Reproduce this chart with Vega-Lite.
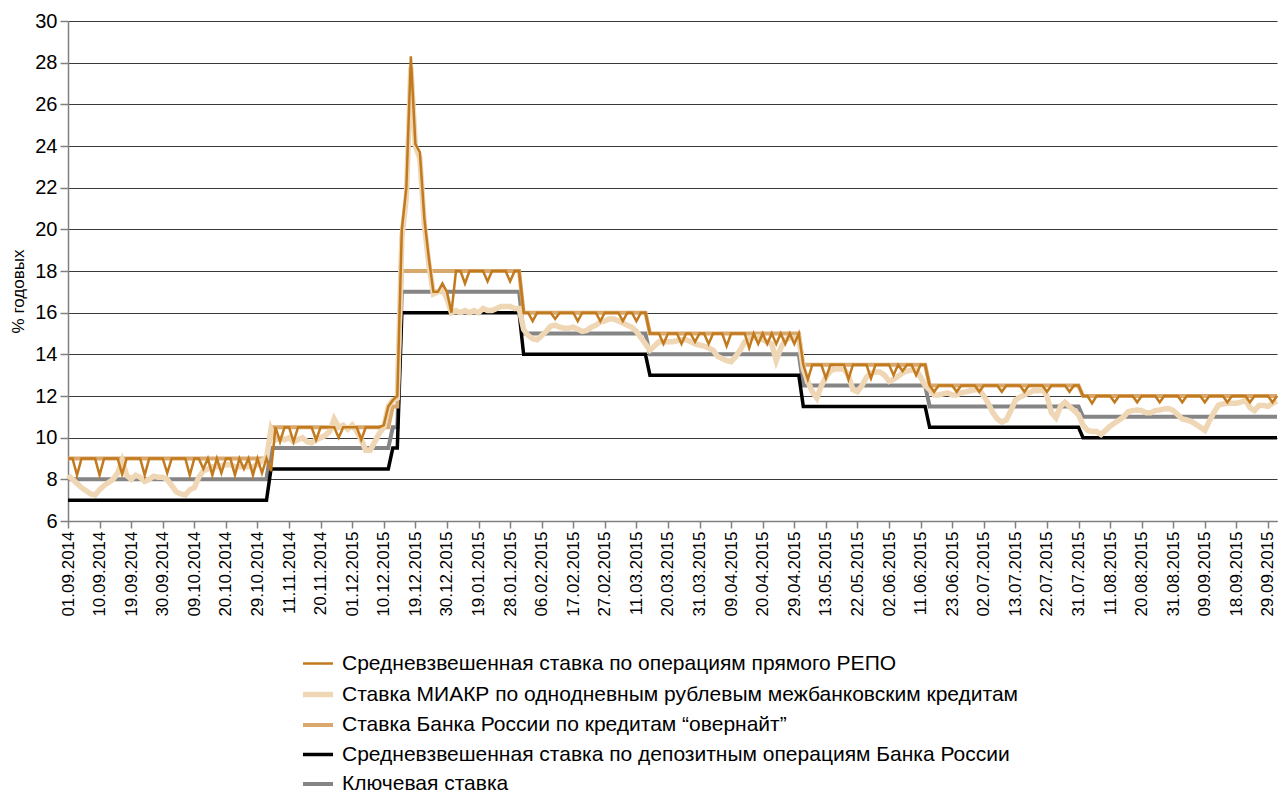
{
"$schema": "https://vega.github.io/schema/vega-lite/v6.json",
"width": 1209, "height": 500,
"autosize": {"type": "none"},
"padding": {"left": 68, "top": 21, "right": 1, "bottom": 273},
"background": "white",
"config": {"font": "Liberation Sans", "view": {"stroke": null}},
"datasets": {"names": [
{"code": "r", "name": "Средневзвешенная ставка по операциям прямого РЕПО"},
{"code": "m", "name": "Ставка МИАКР по однодневным рублевым межбанковским кредитам"},
{"code": "o", "name": "Ставка Банка России по кредитам “овернайт”"},
{"code": "p", "name": "Средневзвешенная ставка по депозитным операциям Банка России"},
{"code": "k", "name": "Ключевая ставка"}
]},
"data": {"values": [
{"d":"01.09.2014","r":9,"m":8.2,"o":9,"p":7,"k":8},
{"d":"02.09.2014","r":9,"m":8.0,"o":9,"p":7,"k":8},
{"d":"03.09.2014","r":8.2,"m":7.8,"o":9,"p":7,"k":8},
{"d":"04.09.2014","r":9,"m":7.6,"o":9,"p":7,"k":8},
{"d":"05.09.2014","r":9,"m":7.45,"o":9,"p":7,"k":8},
{"d":"08.09.2014","r":9,"m":7.3,"o":9,"p":7,"k":8},
{"d":"09.09.2014","r":9,"m":7.25,"o":9,"p":7,"k":8},
{"d":"10.09.2014","r":8.2,"m":7.5,"o":9,"p":7,"k":8},
{"d":"11.09.2014","r":9,"m":7.7,"o":9,"p":7,"k":8},
{"d":"12.09.2014","r":9,"m":7.85,"o":9,"p":7,"k":8},
{"d":"15.09.2014","r":9,"m":8.0,"o":9,"p":7,"k":8},
{"d":"16.09.2014","r":9,"m":8.3,"o":9,"p":7,"k":8},
{"d":"17.09.2014","r":8.25,"m":8.9,"o":9,"p":7,"k":8},
{"d":"18.09.2014","r":9,"m":8.2,"o":9,"p":7,"k":8},
{"d":"19.09.2014","r":9,"m":8.0,"o":9,"p":7,"k":8},
{"d":"22.09.2014","r":9,"m":8.2,"o":9,"p":7,"k":8},
{"d":"23.09.2014","r":9,"m":8.1,"o":9,"p":7,"k":8},
{"d":"24.09.2014","r":8.2,"m":7.9,"o":9,"p":7,"k":8},
{"d":"25.09.2014","r":9,"m":8.0,"o":9,"p":7,"k":8},
{"d":"26.09.2014","r":9,"m":8.15,"o":9,"p":7,"k":8},
{"d":"29.09.2014","r":9,"m":8.1,"o":9,"p":7,"k":8},
{"d":"30.09.2014","r":9,"m":8.1,"o":9,"p":7,"k":8},
{"d":"01.10.2014","r":8.3,"m":8.0,"o":9,"p":7,"k":8},
{"d":"02.10.2014","r":9,"m":7.7,"o":9,"p":7,"k":8},
{"d":"03.10.2014","r":9,"m":7.4,"o":9,"p":7,"k":8},
{"d":"06.10.2014","r":9,"m":7.3,"o":9,"p":7,"k":8},
{"d":"07.10.2014","r":9,"m":7.25,"o":9,"p":7,"k":8},
{"d":"08.10.2014","r":8.2,"m":7.5,"o":9,"p":7,"k":8},
{"d":"09.10.2014","r":9,"m":7.6,"o":9,"p":7,"k":8},
{"d":"10.10.2014","r":9,"m":8.1,"o":9,"p":7,"k":8},
{"d":"13.10.2014","r":8.5,"m":8.4,"o":9,"p":7,"k":8},
{"d":"14.10.2014","r":9,"m":8.5,"o":9,"p":7,"k":8},
{"d":"15.10.2014","r":8.2,"m":8.6,"o":9,"p":7,"k":8},
{"d":"16.10.2014","r":9,"m":8.6,"o":9,"p":7,"k":8},
{"d":"17.10.2014","r":8.3,"m":8.65,"o":9,"p":7,"k":8},
{"d":"20.10.2014","r":9,"m":8.7,"o":9,"p":7,"k":8},
{"d":"21.10.2014","r":9,"m":8.7,"o":9,"p":7,"k":8},
{"d":"22.10.2014","r":8.2,"m":8.6,"o":9,"p":7,"k":8},
{"d":"23.10.2014","r":9,"m":8.6,"o":9,"p":7,"k":8},
{"d":"24.10.2014","r":8.5,"m":8.6,"o":9,"p":7,"k":8},
{"d":"27.10.2014","r":9,"m":8.6,"o":9,"p":7,"k":8},
{"d":"28.10.2014","r":8.2,"m":8.6,"o":9,"p":7,"k":8},
{"d":"29.10.2014","r":9,"m":8.7,"o":9,"p":7,"k":8},
{"d":"30.10.2014","r":8.3,"m":8.9,"o":9,"p":7,"k":8},
{"d":"31.10.2014","r":9,"m":9.0,"o":9,"p":7,"k":8},
{"d":"05.11.2014","r":8.4,"m":10.4,"o":10.5,"p":8.5,"k":9.5},
{"d":"06.11.2014","r":10.5,"m":9.9,"o":10.5,"p":8.5,"k":9.5},
{"d":"07.11.2014","r":9.8,"m":10.0,"o":10.5,"p":8.5,"k":9.5},
{"d":"10.11.2014","r":10.5,"m":9.9,"o":10.5,"p":8.5,"k":9.5},
{"d":"11.11.2014","r":10.5,"m":10.0,"o":10.5,"p":8.5,"k":9.5},
{"d":"12.11.2014","r":9.8,"m":9.8,"o":10.5,"p":8.5,"k":9.5},
{"d":"13.11.2014","r":10.5,"m":9.9,"o":10.5,"p":8.5,"k":9.5},
{"d":"14.11.2014","r":10.5,"m":10.0,"o":10.5,"p":8.5,"k":9.5},
{"d":"17.11.2014","r":10.5,"m":9.8,"o":10.5,"p":8.5,"k":9.5},
{"d":"18.11.2014","r":10.5,"m":9.75,"o":10.5,"p":8.5,"k":9.5},
{"d":"19.11.2014","r":9.9,"m":9.9,"o":10.5,"p":8.5,"k":9.5},
{"d":"20.11.2014","r":10.5,"m":10.0,"o":10.5,"p":8.5,"k":9.5},
{"d":"21.11.2014","r":10.5,"m":10.1,"o":10.5,"p":8.5,"k":9.5},
{"d":"24.11.2014","r":10.5,"m":10.3,"o":10.5,"p":8.5,"k":9.5},
{"d":"25.11.2014","r":10.5,"m":10.9,"o":10.5,"p":8.5,"k":9.5},
{"d":"26.11.2014","r":10.0,"m":10.5,"o":10.5,"p":8.5,"k":9.5},
{"d":"27.11.2014","r":10.5,"m":10.6,"o":10.5,"p":8.5,"k":9.5},
{"d":"28.11.2014","r":10.5,"m":10.4,"o":10.5,"p":8.5,"k":9.5},
{"d":"01.12.2015","r":10.5,"m":10.6,"o":10.5,"p":8.5,"k":9.5},
{"d":"02.12.2015","r":10.5,"m":10.3,"o":10.5,"p":8.5,"k":9.5},
{"d":"03.12.2015","r":9.9,"m":9.9,"o":10.5,"p":8.5,"k":9.5},
{"d":"04.12.2015","r":10.5,"m":9.4,"o":10.5,"p":8.5,"k":9.5},
{"d":"05.12.2015","r":10.5,"m":9.4,"o":10.5,"p":8.5,"k":9.5},
{"d":"08.12.2015","r":10.5,"m":9.8,"o":10.5,"p":8.5,"k":9.5},
{"d":"09.12.2015","r":10.5,"m":10.2,"o":10.5,"p":8.5,"k":9.5},
{"d":"10.12.2015","r":10.6,"m":10.5,"o":10.5,"p":8.5,"k":9.5},
{"d":"11.12.2015","r":11.5,"m":11.5,"o":10.5,"p":8.5,"k":9.5},
{"d":"12.12.2015","r":11.8,"m":11.8,"o":11.5,"p":9.5,"k":10.5},
{"d":"15.12.2015","r":12.0,"m":11.9,"o":11.5,"p":9.5,"k":10.5},
{"d":"16.12.2015","r":20.0,"m":19.6,"o":18,"p":16,"k":17},
{"d":"17.12.2015","r":22.0,"m":21.5,"o":18,"p":16,"k":17},
{"d":"18.12.2015","r":28.3,"m":27.8,"o":18,"p":16,"k":17},
{"d":"19.12.2015","r":24.1,"m":24.0,"o":18,"p":16,"k":17},
{"d":"22.12.2015","r":23.7,"m":23.4,"o":18,"p":16,"k":17},
{"d":"23.12.2015","r":20.5,"m":20.2,"o":18,"p":16,"k":17},
{"d":"24.12.2015","r":18.6,"m":18.3,"o":18,"p":16,"k":17},
{"d":"25.12.2015","r":17.0,"m":16.9,"o":18,"p":16,"k":17},
{"d":"26.12.2015","r":17.0,"m":17.0,"o":18,"p":16,"k":17},
{"d":"29.12.2015","r":17.4,"m":17.1,"o":18,"p":16,"k":17},
{"d":"30.12.2015","r":17.0,"m":16.7,"o":18,"p":16,"k":17},
{"d":"31.12.2015","r":16.0,"m":16.0,"o":18,"p":16,"k":17},
{"d":"12.01.2015","r":18,"m":16.1,"o":18,"p":16,"k":17},
{"d":"13.01.2015","r":18,"m":16.0,"o":18,"p":16,"k":17},
{"d":"14.01.2015","r":17.4,"m":16.1,"o":18,"p":16,"k":17},
{"d":"15.01.2015","r":18,"m":16.0,"o":18,"p":16,"k":17},
{"d":"16.01.2015","r":18,"m":16.1,"o":18,"p":16,"k":17},
{"d":"19.01.2015","r":18,"m":16.0,"o":18,"p":16,"k":17},
{"d":"20.01.2015","r":18,"m":16.2,"o":18,"p":16,"k":17},
{"d":"21.01.2015","r":17.5,"m":16.1,"o":18,"p":16,"k":17},
{"d":"22.01.2015","r":18,"m":16.1,"o":18,"p":16,"k":17},
{"d":"23.01.2015","r":18,"m":16.2,"o":18,"p":16,"k":17},
{"d":"26.01.2015","r":18,"m":16.3,"o":18,"p":16,"k":17},
{"d":"27.01.2015","r":18,"m":16.3,"o":18,"p":16,"k":17},
{"d":"28.01.2015","r":17.5,"m":16.3,"o":18,"p":16,"k":17},
{"d":"29.01.2015","r":18,"m":16.2,"o":18,"p":16,"k":17},
{"d":"30.01.2015","r":18,"m":16.2,"o":18,"p":16,"k":17},
{"d":"02.02.2015","r":16,"m":15.2,"o":16,"p":14,"k":15},
{"d":"03.02.2015","r":16,"m":14.9,"o":16,"p":14,"k":15},
{"d":"04.02.2015","r":15.6,"m":14.75,"o":16,"p":14,"k":15},
{"d":"05.02.2015","r":16,"m":14.7,"o":16,"p":14,"k":15},
{"d":"06.02.2015","r":16,"m":14.9,"o":16,"p":14,"k":15},
{"d":"09.02.2015","r":16,"m":15.1,"o":16,"p":14,"k":15},
{"d":"10.02.2015","r":16,"m":15.35,"o":16,"p":14,"k":15},
{"d":"11.02.2015","r":15.7,"m":15.4,"o":16,"p":14,"k":15},
{"d":"12.02.2015","r":16,"m":15.3,"o":16,"p":14,"k":15},
{"d":"13.02.2015","r":16,"m":15.25,"o":16,"p":14,"k":15},
{"d":"16.02.2015","r":16,"m":15.25,"o":16,"p":14,"k":15},
{"d":"17.02.2015","r":16,"m":15.3,"o":16,"p":14,"k":15},
{"d":"18.02.2015","r":15.6,"m":15.2,"o":16,"p":14,"k":15},
{"d":"19.02.2015","r":16,"m":15.1,"o":16,"p":14,"k":15},
{"d":"20.02.2015","r":16,"m":15.15,"o":16,"p":14,"k":15},
{"d":"24.02.2015","r":16,"m":15.3,"o":16,"p":14,"k":15},
{"d":"25.02.2015","r":16,"m":15.4,"o":16,"p":14,"k":15},
{"d":"26.02.2015","r":15.6,"m":15.55,"o":16,"p":14,"k":15},
{"d":"27.02.2015","r":16,"m":15.6,"o":16,"p":14,"k":15},
{"d":"02.03.2015","r":16,"m":15.7,"o":16,"p":14,"k":15},
{"d":"03.03.2015","r":16,"m":15.7,"o":16,"p":14,"k":15},
{"d":"04.03.2015","r":16,"m":15.6,"o":16,"p":14,"k":15},
{"d":"05.03.2015","r":15.6,"m":15.5,"o":16,"p":14,"k":15},
{"d":"06.03.2015","r":16,"m":15.4,"o":16,"p":14,"k":15},
{"d":"10.03.2015","r":16,"m":15.3,"o":16,"p":14,"k":15},
{"d":"11.03.2015","r":15.6,"m":15.1,"o":16,"p":14,"k":15},
{"d":"12.03.2015","r":16,"m":14.8,"o":16,"p":14,"k":15},
{"d":"13.03.2015","r":16,"m":14.5,"o":16,"p":14,"k":15},
{"d":"16.03.2015","r":15,"m":14.2,"o":15,"p":13,"k":14},
{"d":"17.03.2015","r":15,"m":14.4,"o":15,"p":13,"k":14},
{"d":"18.03.2015","r":15,"m":14.6,"o":15,"p":13,"k":14},
{"d":"19.03.2015","r":14.5,"m":14.6,"o":15,"p":13,"k":14},
{"d":"20.03.2015","r":15,"m":14.6,"o":15,"p":13,"k":14},
{"d":"23.03.2015","r":15,"m":14.6,"o":15,"p":13,"k":14},
{"d":"24.03.2015","r":15,"m":14.65,"o":15,"p":13,"k":14},
{"d":"25.03.2015","r":14.5,"m":14.7,"o":15,"p":13,"k":14},
{"d":"26.03.2015","r":15,"m":14.7,"o":15,"p":13,"k":14},
{"d":"27.03.2015","r":15,"m":14.6,"o":15,"p":13,"k":14},
{"d":"30.03.2015","r":14.6,"m":14.5,"o":15,"p":13,"k":14},
{"d":"31.03.2015","r":15,"m":14.45,"o":15,"p":13,"k":14},
{"d":"01.04.2015","r":15,"m":14.4,"o":15,"p":13,"k":14},
{"d":"02.04.2015","r":14.5,"m":14.3,"o":15,"p":13,"k":14},
{"d":"03.04.2015","r":15,"m":14.2,"o":15,"p":13,"k":14},
{"d":"06.04.2015","r":15,"m":13.9,"o":15,"p":13,"k":14},
{"d":"07.04.2015","r":15,"m":13.8,"o":15,"p":13,"k":14},
{"d":"08.04.2015","r":14.4,"m":13.7,"o":15,"p":13,"k":14},
{"d":"09.04.2015","r":15,"m":13.65,"o":15,"p":13,"k":14},
{"d":"10.04.2015","r":15,"m":13.9,"o":15,"p":13,"k":14},
{"d":"13.04.2015","r":15,"m":14.2,"o":15,"p":13,"k":14},
{"d":"14.04.2015","r":15,"m":14.6,"o":15,"p":13,"k":14},
{"d":"15.04.2015","r":14.3,"m":14.75,"o":15,"p":13,"k":14},
{"d":"16.04.2015","r":15,"m":14.8,"o":15,"p":13,"k":14},
{"d":"17.04.2015","r":14.5,"m":14.85,"o":15,"p":13,"k":14},
{"d":"20.04.2015","r":15,"m":14.7,"o":15,"p":13,"k":14},
{"d":"21.04.2015","r":14.5,"m":14.6,"o":15,"p":13,"k":14},
{"d":"22.04.2015","r":15,"m":14.5,"o":15,"p":13,"k":14},
{"d":"23.04.2015","r":14.5,"m":13.7,"o":15,"p":13,"k":14},
{"d":"24.04.2015","r":15,"m":14.3,"o":15,"p":13,"k":14},
{"d":"27.04.2015","r":14.5,"m":14.7,"o":15,"p":13,"k":14},
{"d":"28.04.2015","r":15,"m":14.8,"o":15,"p":13,"k":14},
{"d":"29.04.2015","r":14.5,"m":14.8,"o":15,"p":13,"k":14},
{"d":"30.04.2015","r":15,"m":14.8,"o":15,"p":13,"k":14},
{"d":"05.05.2015","r":13.5,"m":13.3,"o":13.5,"p":11.5,"k":12.5},
{"d":"06.05.2015","r":12.8,"m":12.7,"o":13.5,"p":11.5,"k":12.5},
{"d":"07.05.2015","r":13.5,"m":12.2,"o":13.5,"p":11.5,"k":12.5},
{"d":"08.05.2015","r":13.5,"m":11.9,"o":13.5,"p":11.5,"k":12.5},
{"d":"12.05.2015","r":13.5,"m":12.5,"o":13.5,"p":11.5,"k":12.5},
{"d":"13.05.2015","r":12.85,"m":12.9,"o":13.5,"p":11.5,"k":12.5},
{"d":"14.05.2015","r":13.5,"m":13.2,"o":13.5,"p":11.5,"k":12.5},
{"d":"15.05.2015","r":13.5,"m":13.3,"o":13.5,"p":11.5,"k":12.5},
{"d":"18.05.2015","r":13.5,"m":13.3,"o":13.5,"p":11.5,"k":12.5},
{"d":"19.05.2015","r":13.5,"m":13.3,"o":13.5,"p":11.5,"k":12.5},
{"d":"20.05.2015","r":12.8,"m":13.0,"o":13.5,"p":11.5,"k":12.5},
{"d":"21.05.2015","r":13.5,"m":12.3,"o":13.5,"p":11.5,"k":12.5},
{"d":"22.05.2015","r":13.5,"m":12.2,"o":13.5,"p":11.5,"k":12.5},
{"d":"25.05.2015","r":13.5,"m":12.5,"o":13.5,"p":11.5,"k":12.5},
{"d":"26.05.2015","r":13.5,"m":12.9,"o":13.5,"p":11.5,"k":12.5},
{"d":"27.05.2015","r":12.85,"m":13.1,"o":13.5,"p":11.5,"k":12.5},
{"d":"28.05.2015","r":13.5,"m":13.15,"o":13.5,"p":11.5,"k":12.5},
{"d":"29.05.2015","r":13.5,"m":13.15,"o":13.5,"p":11.5,"k":12.5},
{"d":"01.06.2015","r":13.5,"m":13.0,"o":13.5,"p":11.5,"k":12.5},
{"d":"02.06.2015","r":13.5,"m":12.7,"o":13.5,"p":11.5,"k":12.5},
{"d":"03.06.2015","r":13.0,"m":12.8,"o":13.5,"p":11.5,"k":12.5},
{"d":"04.06.2015","r":13.5,"m":12.95,"o":13.5,"p":11.5,"k":12.5},
{"d":"05.06.2015","r":13.2,"m":13.1,"o":13.5,"p":11.5,"k":12.5},
{"d":"08.06.2015","r":13.5,"m":13.2,"o":13.5,"p":11.5,"k":12.5},
{"d":"09.06.2015","r":13.5,"m":13.25,"o":13.5,"p":11.5,"k":12.5},
{"d":"10.06.2015","r":13.0,"m":13.25,"o":13.5,"p":11.5,"k":12.5},
{"d":"11.06.2015","r":13.5,"m":12.9,"o":13.5,"p":11.5,"k":12.5},
{"d":"15.06.2015","r":13.5,"m":12.5,"o":13.5,"p":11.5,"k":12.5},
{"d":"16.06.2015","r":12.5,"m":12.3,"o":12.5,"p":10.5,"k":11.5},
{"d":"17.06.2015","r":12.2,"m":12.05,"o":12.5,"p":10.5,"k":11.5},
{"d":"18.06.2015","r":12.5,"m":12.05,"o":12.5,"p":10.5,"k":11.5},
{"d":"19.06.2015","r":12.5,"m":12.1,"o":12.5,"p":10.5,"k":11.5},
{"d":"22.06.2015","r":12.5,"m":12.15,"o":12.5,"p":10.5,"k":11.5},
{"d":"23.06.2015","r":12.5,"m":12.05,"o":12.5,"p":10.5,"k":11.5},
{"d":"24.06.2015","r":12.2,"m":12.05,"o":12.5,"p":10.5,"k":11.5},
{"d":"25.06.2015","r":12.5,"m":12.15,"o":12.5,"p":10.5,"k":11.5},
{"d":"26.06.2015","r":12.5,"m":12.2,"o":12.5,"p":10.5,"k":11.5},
{"d":"29.06.2015","r":12.5,"m":12.25,"o":12.5,"p":10.5,"k":11.5},
{"d":"30.06.2015","r":12.5,"m":12.3,"o":12.5,"p":10.5,"k":11.5},
{"d":"01.07.2015","r":12.2,"m":12.3,"o":12.5,"p":10.5,"k":11.5},
{"d":"02.07.2015","r":12.5,"m":12.0,"o":12.5,"p":10.5,"k":11.5},
{"d":"03.07.2015","r":12.5,"m":11.65,"o":12.5,"p":10.5,"k":11.5},
{"d":"06.07.2015","r":12.5,"m":11.2,"o":12.5,"p":10.5,"k":11.5},
{"d":"07.07.2015","r":12.5,"m":10.9,"o":12.5,"p":10.5,"k":11.5},
{"d":"08.07.2015","r":12.2,"m":10.75,"o":12.5,"p":10.5,"k":11.5},
{"d":"09.07.2015","r":12.5,"m":10.85,"o":12.5,"p":10.5,"k":11.5},
{"d":"10.07.2015","r":12.5,"m":11.3,"o":12.5,"p":10.5,"k":11.5},
{"d":"13.07.2015","r":12.5,"m":11.8,"o":12.5,"p":10.5,"k":11.5},
{"d":"14.07.2015","r":12.5,"m":11.95,"o":12.5,"p":10.5,"k":11.5},
{"d":"15.07.2015","r":12.2,"m":12.05,"o":12.5,"p":10.5,"k":11.5},
{"d":"16.07.2015","r":12.5,"m":12.15,"o":12.5,"p":10.5,"k":11.5},
{"d":"17.07.2015","r":12.5,"m":12.25,"o":12.5,"p":10.5,"k":11.5},
{"d":"20.07.2015","r":12.5,"m":12.25,"o":12.5,"p":10.5,"k":11.5},
{"d":"21.07.2015","r":12.5,"m":12.3,"o":12.5,"p":10.5,"k":11.5},
{"d":"22.07.2015","r":12.2,"m":12.0,"o":12.5,"p":10.5,"k":11.5},
{"d":"23.07.2015","r":12.5,"m":11.2,"o":12.5,"p":10.5,"k":11.5},
{"d":"24.07.2015","r":12.5,"m":10.95,"o":12.5,"p":10.5,"k":11.5},
{"d":"27.07.2015","r":12.5,"m":11.5,"o":12.5,"p":10.5,"k":11.5},
{"d":"28.07.2015","r":12.5,"m":11.7,"o":12.5,"p":10.5,"k":11.5},
{"d":"29.07.2015","r":12.2,"m":11.5,"o":12.5,"p":10.5,"k":11.5},
{"d":"30.07.2015","r":12.5,"m":11.3,"o":12.5,"p":10.5,"k":11.5},
{"d":"31.07.2015","r":12.5,"m":11.1,"o":12.5,"p":10.5,"k":11.5},
{"d":"03.08.2015","r":12,"m":10.6,"o":12,"p":10,"k":11},
{"d":"04.08.2015","r":12,"m":10.35,"o":12,"p":10,"k":11},
{"d":"05.08.2015","r":11.65,"m":10.3,"o":12,"p":10,"k":11},
{"d":"06.08.2015","r":12,"m":10.3,"o":12,"p":10,"k":11},
{"d":"07.08.2015","r":12,"m":10.15,"o":12,"p":10,"k":11},
{"d":"10.08.2015","r":12,"m":10.35,"o":12,"p":10,"k":11},
{"d":"11.08.2015","r":12,"m":10.55,"o":12,"p":10,"k":11},
{"d":"12.08.2015","r":11.7,"m":10.7,"o":12,"p":10,"k":11},
{"d":"13.08.2015","r":12,"m":10.85,"o":12,"p":10,"k":11},
{"d":"14.08.2015","r":12,"m":11.0,"o":12,"p":10,"k":11},
{"d":"17.08.2015","r":12,"m":11.25,"o":12,"p":10,"k":11},
{"d":"18.08.2015","r":12,"m":11.3,"o":12,"p":10,"k":11},
{"d":"19.08.2015","r":11.7,"m":11.33,"o":12,"p":10,"k":11},
{"d":"20.08.2015","r":12,"m":11.3,"o":12,"p":10,"k":11},
{"d":"21.08.2015","r":12,"m":11.2,"o":12,"p":10,"k":11},
{"d":"24.08.2015","r":12,"m":11.2,"o":12,"p":10,"k":11},
{"d":"25.08.2015","r":12,"m":11.3,"o":12,"p":10,"k":11},
{"d":"26.08.2015","r":11.7,"m":11.33,"o":12,"p":10,"k":11},
{"d":"27.08.2015","r":12,"m":11.38,"o":12,"p":10,"k":11},
{"d":"28.08.2015","r":12,"m":11.4,"o":12,"p":10,"k":11},
{"d":"31.08.2015","r":12,"m":11.3,"o":12,"p":10,"k":11},
{"d":"01.09.2015","r":12,"m":11.1,"o":12,"p":10,"k":11},
{"d":"02.09.2015","r":11.7,"m":10.9,"o":12,"p":10,"k":11},
{"d":"03.09.2015","r":12,"m":10.85,"o":12,"p":10,"k":11},
{"d":"04.09.2015","r":12,"m":10.77,"o":12,"p":10,"k":11},
{"d":"07.09.2015","r":12,"m":10.65,"o":12,"p":10,"k":11},
{"d":"08.09.2015","r":12,"m":10.5,"o":12,"p":10,"k":11},
{"d":"09.09.2015","r":11.7,"m":10.35,"o":12,"p":10,"k":11},
{"d":"10.09.2015","r":12,"m":10.8,"o":12,"p":10,"k":11},
{"d":"11.09.2015","r":12,"m":11.2,"o":12,"p":10,"k":11},
{"d":"14.09.2015","r":12,"m":11.55,"o":12,"p":10,"k":11},
{"d":"15.09.2015","r":12,"m":11.62,"o":12,"p":10,"k":11},
{"d":"16.09.2015","r":11.7,"m":11.65,"o":12,"p":10,"k":11},
{"d":"17.09.2015","r":12,"m":11.65,"o":12,"p":10,"k":11},
{"d":"18.09.2015","r":12,"m":11.65,"o":12,"p":10,"k":11},
{"d":"21.09.2015","r":12,"m":11.7,"o":12,"p":10,"k":11},
{"d":"22.09.2015","r":12,"m":11.8,"o":12,"p":10,"k":11},
{"d":"23.09.2015","r":11.7,"m":11.45,"o":12,"p":10,"k":11},
{"d":"24.09.2015","r":12,"m":11.3,"o":12,"p":10,"k":11},
{"d":"25.09.2015","r":12,"m":11.55,"o":12,"p":10,"k":11},
{"d":"28.09.2015","r":12,"m":11.55,"o":12,"p":10,"k":11},
{"d":"29.09.2015","r":12,"m":11.5,"o":12,"p":10,"k":11},
{"d":"30.09.2015","r":11.7,"m":11.65,"o":12,"p":10,"k":11},
{"d":"01.10.2015","r":12,"m":11.75,"o":12,"p":10,"k":11}
]},
"transform": [
{"fold": ["r", "m", "o", "p", "k"], "as": ["code", "v"]},
{"lookup": "code", "from": {"data": {"name": "names"}, "key": "code", "fields": ["name"]}}
],
"encoding": {
"x": {"field": "d", "type": "ordinal", "sort": null, "scale": {"type": "point", "padding": 0},
 "axis": {"title": null, "values": ["01.09.2014","10.09.2014","19.09.2014","30.09.2014","09.10.2014","20.10.2014","29.10.2014","11.11.2014","20.11.2014","01.12.2015","10.12.2015","19.12.2015","30.12.2015","19.01.2015","28.01.2015","06.02.2015","17.02.2015","27.02.2015","11.03.2015","20.03.2015","31.03.2015","09.04.2015","20.04.2015","29.04.2015","13.05.2015","22.05.2015","02.06.2015","11.06.2015","23.06.2015","02.07.2015","13.07.2015","22.07.2015","31.07.2015","11.08.2015","20.08.2015","31.08.2015","09.09.2015","18.09.2015","29.09.2015"],
  "labelAngle": 270, "labelFontSize": 17, "labelColor": "#000", "labelPadding": 3, "tickSize": 7, "tickColor": "#808080", "tickWidth": 1.5, "domainColor": "#808080", "domainWidth": 1.5, "grid": false}},
"y": {"field": "v", "type": "quantitative", "scale": {"domain": [6, 30], "nice": false, "zero": false},
 "axis": {"title": "% годовых", "titleFontSize": 17, "titleFontWeight": "normal", "titleColor": "#000", "titleAngle": 270, "titleX": -50, "titleY": 270, "titleAlign": "center", "titleBaseline": "middle",
  "values": [6,8,10,12,14,16,18,20,22,24,26,28,30], "labelFontSize": 20, "labelColor": "#000", "labelPadding": 3, "tickSize": 8, "tickColor": "#808080", "tickWidth": 1.5, "domainColor": "#808080", "domainWidth": 1.5, "grid": true, "gridColor": "#3a3a3a", "gridWidth": 1}},
"color": {"field": "name", "type": "nominal",
 "scale": {"domain": ["Средневзвешенная ставка по операциям прямого РЕПО","Ставка МИАКР по однодневным рублевым межбанковским кредитам","Ставка Банка России по кредитам “овернайт”","Средневзвешенная ставка по депозитным операциям Банка России","Ключевая ставка"],
  "range": ["#c27a1e","#efd7b5","#d9a86c","#000000","#858585"]},
 "legend": {"title": null, "orient": "none", "legendX": 232, "legendY": 626, "symbolType": "stroke", "symbolSize": 900, "labelFontSize": 21, "labelColor": "#000", "labelOffset": 6, "labelLimit": 0, "rowPadding": 2.5}},
"strokeWidth": {"field": "name", "type": "nominal",
 "scale": {"type": "ordinal", "domain": ["Средневзвешенная ставка по операциям прямого РЕПО","Ставка МИАКР по однодневным рублевым межбанковским кредитам","Ставка Банка России по кредитам “овернайт”","Средневзвешенная ставка по депозитным операциям Банка России","Ключевая ставка"],
  "range": [2.5, 5.5, 4, 3.5, 4]},
 "legend": {"title": null, "orient": "none", "legendX": 232, "legendY": 626, "symbolType": "stroke", "symbolSize": 900, "labelFontSize": 21, "labelColor": "#000", "labelOffset": 6, "labelLimit": 0, "rowPadding": 2.5}}
},
"layer": [
{"transform": [{"filter": "datum.code === 'k'"}], "mark": {"type": "line"}},
{"transform": [{"filter": "datum.code === 'p'"}], "mark": {"type": "line"}},
{"transform": [{"filter": "datum.code === 'o'"}], "mark": {"type": "line"}},
{"transform": [{"filter": "datum.code === 'm'"}], "mark": {"type": "line"}},
{"transform": [{"filter": "datum.code === 'r'"}], "mark": {"type": "line"}}
]
}
